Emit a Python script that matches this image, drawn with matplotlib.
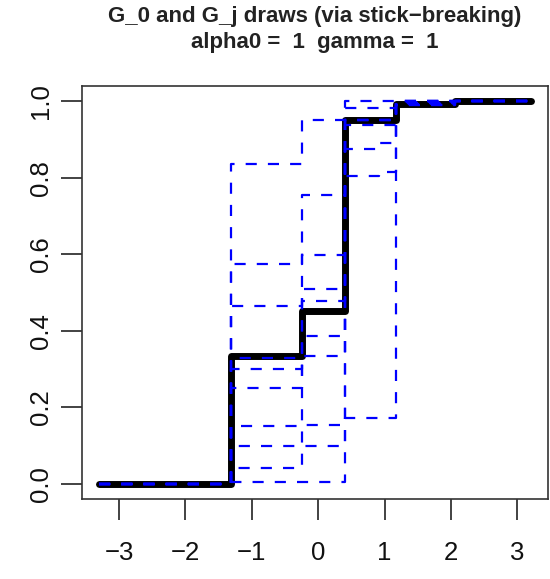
import numpy as np
import matplotlib
matplotlib.use("Agg")
import matplotlib.pyplot as plt

plt.rcParams['font.family'] = ['Liberation Sans', 'DejaVu Sans']

# atom locations shared by G_0 and every G_j
atoms = [-1.31, -0.25, 0.40, 0.92, 1.18, 2.06]
x_from, x_to = -3.3, 3.2

# cumulative mass after each atom
g0_cdf = [0.334, 0.452, 0.950, 0.951, 0.993, 1.0]

gj_cdf = [
    [0.837, 0.951, 1.000, 1.000, 1.000, 1.0],
    [0.575, 0.754, 0.982, 0.982, 1.000, 1.0],
    [0.465, 0.509, 0.938, 0.938, 1.000, 1.0],
    [0.330, 0.597, 0.875, 0.890, 0.996, 1.0],
    [0.300, 0.478, 0.805, 0.816, 0.995, 1.0],
    [0.250, 0.387, 0.950, 0.950, 0.990, 1.0],
    [0.150, 0.334, 0.950, 0.950, 0.993, 1.0],
    [0.098, 0.155, 0.950, 0.950, 0.998, 1.0],
    [0.042, 0.098, 0.173, 0.173, 1.000, 1.0],
    [0.005, 0.005, 0.950, 0.950, 0.990, 1.0],
]

xticks = [-3, -2, -1, 0, 1, 2, 3]
yticks = [0.0, 0.2, 0.4, 0.6, 0.8, 1.0]


def step_xy(cdf):
    xs = [x_from] + atoms + [x_to]
    ys = [0.0] + cdf + [cdf[-1]]
    return xs, ys


fig = plt.figure(figsize=(5.5, 5.79), dpi=100)
ax = fig.add_axes([0.149, 0.138, 0.847, 0.7135])

xs, ys = step_xy(g0_cdf)
ax.step(xs, ys, where='post', color='black', lw=5,
        solid_capstyle='round', solid_joinstyle='round', zorder=2)

for cdf in gj_cdf:
    xs, ys = step_xy(cdf)
    ax.step(xs, ys, where='post', color='#0000ff', lw=1.6,
            linestyle=(0, (5, 5)), zorder=3)

# R style 4% padding around the data range
dx = 0.04 * (x_to - x_from)
ax.set_xlim(x_from - dx, x_to + dx)
ax.set_ylim(-0.04, 1.04)

ax.set_xticks(xticks)
ax.set_xticklabels(['\u2212%d' % -t if t < 0 else str(t) for t in xticks])
ax.set_yticks(yticks)
ax.set_yticklabels(['%.1f' % t for t in yticks], rotation=90, va='center')

ax.tick_params(axis='both', direction='out', length=15, width=1.2,
               labelsize=18.5, color='#222222', labelcolor='#111111')
ax.tick_params(axis='x', pad=15)
ax.tick_params(axis='y', pad=6)
for sp in ax.spines.values():
    sp.set_linewidth(1.2)
    sp.set_color('#333333')

cx = 0.149 + 0.847 / 2
fig.text(cx, 0.971, 'G_0 and G_j draws (via stick\u2212breaking)',
         ha='center', va='center', fontsize=16, fontweight='bold', color='#222222')
fig.text(cx, 0.926, 'alpha0 =  1  gamma =  1',
         ha='center', va='center', fontsize=16, fontweight='bold', color='#222222')

fig.savefig('out.png', dpi=100)
